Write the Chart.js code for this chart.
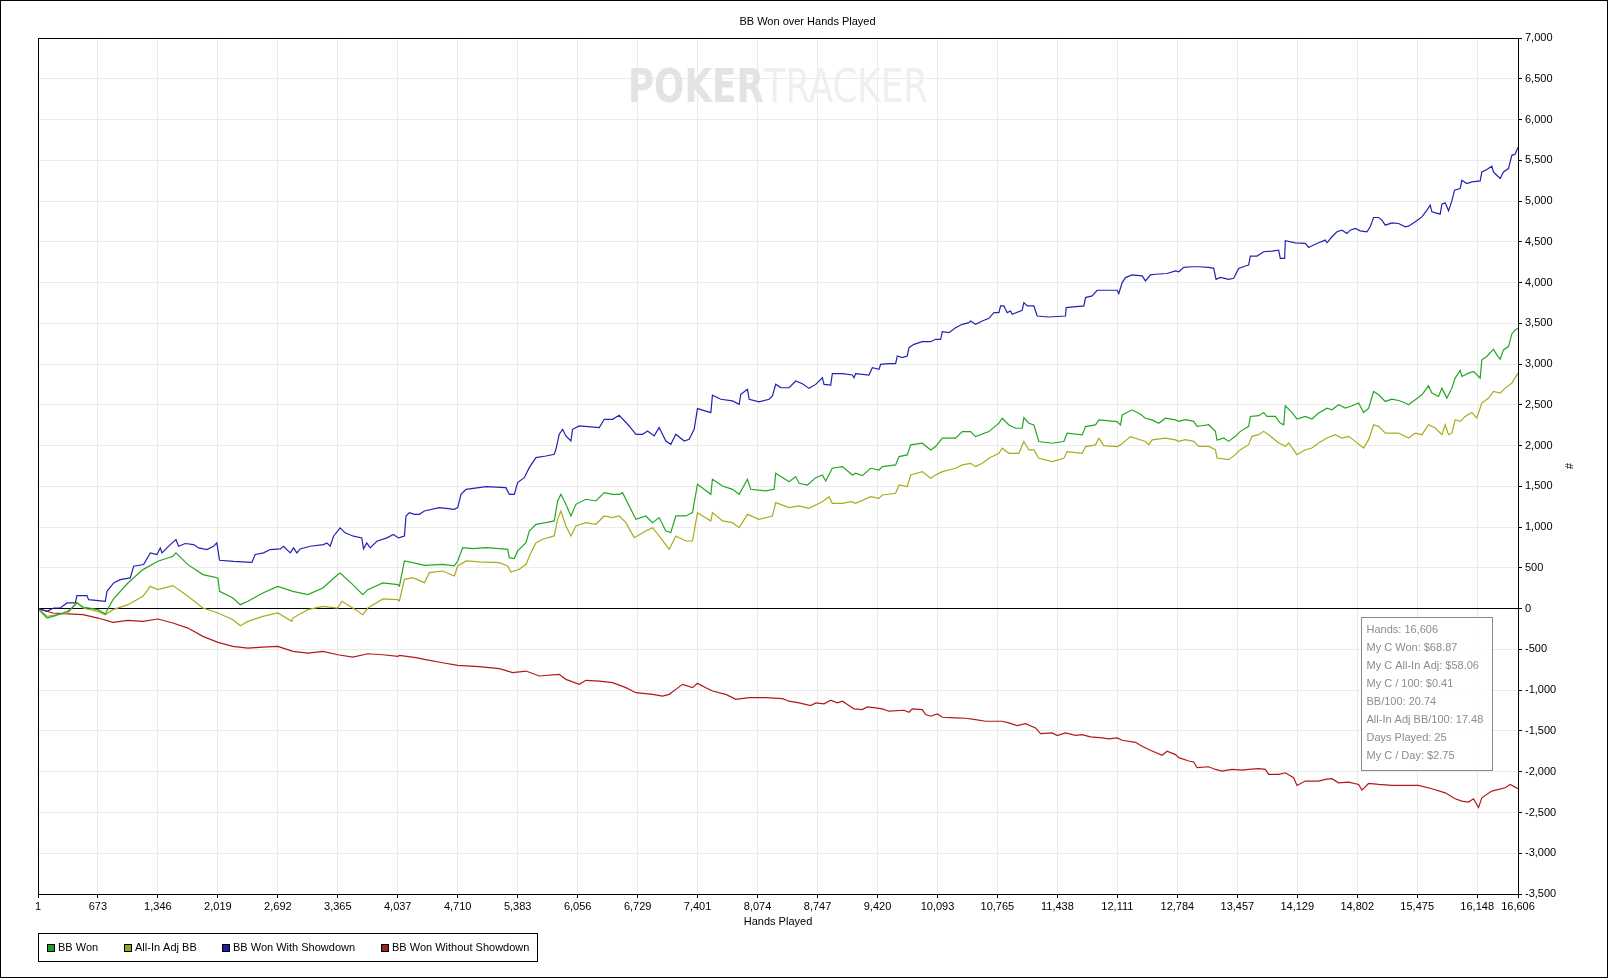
<!DOCTYPE html>
<html>
<head>
<meta charset="utf-8">
<script src="https://cdn.jsdelivr.net/npm/chart.js@4.4.1/dist/chart.umd.min.js"></script>
<style>
  html, body { margin: 0; padding: 0; background: #fff; }
  canvas { display: block; }
</style>
</head>
<body>
<canvas id="c" width="1609" height="979"></canvas>
<script>
// ---------- DATA ----------
const chartTitle = "BB Won over Hands Played";
const xAxisTitle = "Hands Played";
const yAxisTitle = "#";
const watermarkBold = "POKER";
const watermarkLight = "TRACKER";

const xTickValues = [1, 673, 1346, 2019, 2692, 3365, 4037, 4710, 5383, 6056, 6729, 7401, 8074,
  8747, 9420, 10093, 10765, 11438, 12111, 12784, 13457, 14129, 14802, 15475, 16148, 16606];

// BB Won (green)
const wonHands = [1, 102, 169, 337, 438, 506, 674, 756, 842, 1010, 1178, 1347, 1515, 1549, 1683, 1851,
  2020, 2038, 2188, 2270, 2356, 2524, 2692, 2861, 3029, 3197, 3365, 3391, 3533, 3645, 3702, 3870, 4038,
  4056, 4112, 4205, 4336, 4541, 4672, 4710, 4766, 4878, 5027, 5177, 5270, 5289, 5345, 5382, 5476, 5513,
  5588, 5700, 5793, 5831, 5868, 5924, 5980, 6036, 6148, 6260, 6354, 6447, 6522, 6559, 6634, 6709, 6821,
  6896, 6970, 7045, 7101, 7157, 7269, 7344, 7400, 7550, 7568, 7681, 7793, 7868, 7961, 7998, 8166, 8260,
  8278, 8428, 8502, 8540, 8633, 8727, 8801, 8839, 8913, 9026, 9138, 9175, 9250, 9343, 9437, 9474, 9623,
  9661, 9754, 9792, 9922, 10016, 10072, 10147, 10296, 10371, 10464, 10520, 10670, 10782, 10819, 10894,
  10969, 11043, 11062, 11118, 11174, 11230, 11380, 11511, 11548, 11716, 11754, 11866, 11903, 12108,
  12146, 12165, 12277, 12370, 12426, 12501, 12575, 12650, 12763, 12800, 12874, 12968, 13005, 13061,
  13136, 13211, 13229, 13304, 13360, 13435, 13491, 13584, 13603, 13696, 13753, 13790, 13883, 13939,
  13977, 13995, 14070, 14126, 14220, 14294, 14369, 14463, 14519, 14593, 14668, 14743, 14818, 14874,
  14930, 14986, 15042, 15117, 15191, 15266, 15341, 15378, 15453, 15528, 15602, 15640, 15715, 15752,
  15808, 15864, 15901, 15957, 15976, 16051, 16107, 16182, 16200, 16256, 16331, 16368, 16406, 16443,
  16499, 16537, 16574, 16606];
const wonValues = [0, -115, -94, -33, 70, 20, -12, -65, 110, 315, 479, 581, 643, 684, 540, 418,
  377, 213, 131, 49, 90, 192, 274, 213, 172, 254, 418, 438, 295, 172, 233, 315, 295,
  278, 585, 564, 532, 544, 524, 585, 748, 736, 748, 736, 728, 626, 614, 708, 810, 953,
  1035, 1055, 1076, 1321, 1403, 1280, 1137, 1280, 1342, 1321, 1423, 1403, 1403, 1423, 1260, 1096, 1137,
  1055, 1117, 953, 933, 1137, 1137, 1178, 1526, 1403, 1587, 1505, 1464, 1403, 1587, 1464, 1444, 1464,
  1661, 1558, 1620, 1538, 1517, 1607, 1640, 1566, 1722, 1742, 1640, 1661, 1632, 1722, 1701, 1742, 1763,
  1865, 1886, 2009, 2029, 1947, 1988, 2091, 2091, 2172, 2172, 2111, 2172, 2275, 2336, 2254,
  2213, 2213, 2344, 2275, 2254, 2050, 2029, 2050, 2152, 2131, 2234, 2254, 2316, 2295,
  2254, 2377, 2439, 2385, 2336, 2316, 2275, 2336, 2316, 2297, 2318, 2297, 2236, 2244,
  2256, 2175, 2065, 2093, 2052, 2114, 2175, 2236, 2358, 2367, 2407, 2358, 2358, 2277,
  2256, 2489, 2407, 2326, 2358, 2326, 2399, 2460, 2440, 2501, 2460, 2489, 2522, 2407,
  2460, 2664, 2624, 2542, 2571, 2554, 2522, 2501, 2562, 2624, 2734, 2644, 2603, 2705,
  2583, 2705, 2828, 2921, 2848, 2889, 2909, 2828, 3052, 3093, 3183, 3113, 3060, 3174,
  3215, 3370, 3419, 3440];

// All-In Adj BB (olive)
const adjHands = [1, 102, 337, 438, 506, 674, 756, 842, 1010, 1178, 1261, 1347, 1515, 1683, 1851, 2020,
  2188, 2270, 2356, 2524, 2692, 2849, 2861, 3029, 3197, 3365, 3410, 3533, 3645, 3702, 3870, 4038,
  4056, 4112, 4205, 4336, 4392, 4541, 4672, 4710, 4803, 4952, 5177, 5270, 5307, 5401, 5476, 5532, 5588,
  5663, 5793, 5831, 5868, 5924, 5980, 6036, 6148, 6260, 6354, 6447, 6522, 6597, 6690, 6821, 6896, 6970,
  7083, 7157, 7269, 7344, 7400, 7550, 7568, 7681, 7793, 7868, 7961, 8091, 8241, 8278, 8428, 8540, 8650,
  8801, 8876, 8913, 9026, 9119, 9175, 9343, 9437, 9474, 9623, 9661, 9754, 9792, 9922, 10016, 10072,
  10147, 10296, 10371, 10464, 10520, 10595, 10670, 10782, 10819, 10894, 11006, 11062, 11118, 11174,
  11230, 11380, 11511, 11548, 11716, 11754, 11866, 11903, 11959, 12108, 12146, 12258, 12426, 12463,
  12501, 12650, 12763, 12800, 12874, 12968, 13024, 13136, 13211, 13229, 13360, 13435, 13491, 13584,
  13622, 13696, 13753, 13809, 13921, 13995, 14033, 14126, 14220, 14294, 14369, 14463, 14556, 14631,
  14706, 14780, 14874, 14930, 14986, 15042, 15117, 15266, 15378, 15453, 15528, 15602, 15677, 15752,
  15789, 15827, 15864, 15901, 15957, 16013, 16088, 16144, 16200, 16275, 16331, 16406, 16462, 16537,
  16606];
const adjValues = [0, -94, -53, 78, 8, -33, -74, -12, 49, 152, 274, 233, 283, 152, 8, -53,
  -135, -209, -156, -94, -53, -156, -115, -12, 29, 8, 90, 8, -74, 8, 119, 110,
  94, 360, 380, 319, 442, 462, 401, 524, 585, 573, 564, 524, 450, 483, 544, 687, 810,
  851, 892, 1096, 1198, 1014, 892, 1014, 1055, 1035, 1137, 1117, 1137, 1055, 871, 953, 994, 892,
  728, 892, 830, 830, 1178, 1076, 1178, 1076, 1055, 994, 1157, 1096, 1137, 1301, 1239, 1260, 1230,
  1312, 1374, 1292, 1292, 1312, 1292, 1374, 1353, 1394, 1415, 1517, 1497, 1640, 1681, 1599, 1640,
  1681, 1722, 1763, 1783, 1742, 1783, 1845, 1906, 1968, 1906, 1906, 2050, 1947, 1947,
  1845, 1804, 1845, 1927, 1906, 1988, 2009, 2091, 2000, 1988, 2009, 2111, 2050, 2009,
  2070, 2091, 2070, 2052, 2073, 2052, 1991, 1991, 1950, 1848, 1828, 1889, 1950, 2012,
  2114, 2134, 2175, 2134, 2032, 1991, 2032, 1889, 1950, 1971, 2032, 2093, 2134, 2093,
  2114, 2052, 1971, 2073, 2256, 2236, 2154, 2154, 2093, 2154, 2134, 2256, 2216, 2134,
  2256, 2134, 2154, 2318, 2297, 2358, 2407, 2338, 2522, 2583, 2664, 2644, 2705, 2766,
  2889];

// BB Won With Showdown (blue)
const sdHands = [1, 102, 177, 251, 326, 420, 438, 550, 569, 756, 775, 850, 924, 1036, 1074, 1186,
  1261, 1335, 1373, 1392, 1485, 1549, 1578, 1653, 1747, 1803, 1896, 1971, 2008, 2038, 2195, 2401,
  2438, 2532, 2606, 2719, 2756, 2831, 2868, 2905, 2943, 3055, 3204, 3242, 3279, 3317, 3391, 3447,
  3541, 3634, 3653, 3690, 3728, 3803, 3915, 3989, 4045,
  4056, 4112, 4130, 4168, 4224, 4280, 4336, 4504, 4672, 4710, 4747, 4803, 5027, 5251, 5289, 5345,
  5382, 5457, 5513, 5588, 5700, 5793, 5812, 5849, 5887, 5924, 5980, 5999, 6074, 6298, 6354, 6447,
  6522, 6634, 6709, 6784, 6840, 6914, 6970, 7045, 7101, 7157, 7251, 7307, 7363, 7400, 7550, 7568,
  7662, 7793, 7868, 7886, 7961, 7980, 8091, 8204, 8241, 8278, 8334,
  8428, 8502, 8577, 8652, 8727, 8801, 8820, 8895, 8913, 9026, 9138, 9156, 9175, 9324, 9362, 9437,
  9455, 9549, 9623, 9642, 9698, 9754, 9773, 9829, 9922, 10016, 10072, 10128, 10147, 10221, 10296,
  10371, 10445, 10464, 10520, 10595, 10670, 10726, 10782, 10801, 10838, 10875, 10913, 10931, 11043,
  11062, 11100, 11174, 11212, 11342, 11529, 11537, 11735, 11754, 11828, 11884, 12108, 12127, 12165,
  12202, 12277, 12389, 12426, 12482, 12538, 12669, 12763,
  12800, 12856, 12949, 13024, 13136, 13192, 13218, 13267, 13360, 13416, 13472, 13547, 13584, 13603,
  13678, 13753, 13846, 13921, 13939, 13988, 13995, 14108, 14220, 14257, 14313, 14369, 14444, 14463,
  14519, 14575, 14631, 14687, 14724, 14780, 14836, 14911, 14948, 14986, 15042, 15079, 15117, 15191,
  15266, 15341, 15378, 15453, 15528, 15584, 15621, 15640, 15733, 15752, 15789, 15827, 15864, 15894,
  15957, 15976, 16032, 16088, 16182, 16200, 16256, 16312, 16331, 16368, 16406, 16443, 16499, 16537,
  16574, 16606];
const sdValues = [0, -33, 8, 8, 70, 70, 160, 160, 111, 90, 213, 315, 356, 377, 520, 541,
  684, 664, 745, 684, 786, 848, 766, 799, 786, 745, 725, 766, 807, 594, 581, 569,
  664, 684, 725, 733, 766, 684, 745, 684, 733, 766, 786, 807, 766, 889, 991, 930,
  889, 868, 733, 807, 745, 827, 868, 909, 868,
  871, 892, 1137, 1178, 1157, 1157, 1198, 1239, 1219, 1239, 1403, 1464, 1497, 1485, 1403, 1403,
  1546, 1607, 1730, 1853, 1873, 1894, 1955, 2139, 2200, 2119, 2057, 2200, 2241, 2221, 2323, 2323,
  2372, 2241, 2139, 2139, 2180, 2119, 2221, 2057, 2016, 2139, 2057, 2078, 2200, 2454, 2405, 2618,
  2569, 2548, 2507, 2630, 2691, 2569, 2536, 2569, 2609, 2753, 2712,
  2710, 2792, 2759, 2702, 2751, 2833, 2751, 2743, 2882, 2882, 2866, 2833, 2882, 2866, 2956, 2935,
  2997, 3005, 3005, 3099, 3079, 3099, 3201, 3242, 3275, 3275, 3304, 3304, 3398, 3386, 3447,
  3488, 3509, 3529, 3488, 3529, 3562, 3631, 3631, 3713, 3713, 3631, 3652, 3611, 3660,
  3754, 3713, 3713, 3590, 3578, 3590, 3693, 3713, 3816, 3836, 3906, 3906, 3865, 4000,
  4061, 4094, 4082, 4020, 4094, 4102, 4111, 4143,
  4133, 4186, 4194, 4194, 4186, 4174, 4039, 4064, 4039, 4052, 4174, 4203, 4215, 4325,
  4325, 4378, 4386, 4398, 4296, 4296, 4513, 4488, 4480, 4431, 4460, 4488, 4521, 4488,
  4562, 4623, 4643, 4602, 4643, 4664, 4635, 4623, 4684, 4798, 4798, 4766, 4704, 4733,
  4725, 4684, 4692, 4745, 4806, 4888, 4949, 4868, 4839, 4962, 4978, 4880, 5002, 5133,
  5153, 5255, 5214, 5235, 5247, 5357, 5386, 5427, 5357, 5316, 5276, 5357, 5398, 5561,
  5573, 5660];

// BB Won Without Showdown (red)
const nsdHands = [1, 169, 337, 506, 674, 842, 1010, 1178, 1347, 1515, 1683, 1851, 2020, 2188, 2356, 2524,
  2692, 2861, 3029, 3197, 3365, 3533, 3702, 3870, 4038,
  4056, 4242, 4336, 4541, 4710, 4952, 5177, 5326, 5476, 5625, 5849, 5924, 6074, 6148, 6298, 6447,
  6597, 6709, 6896, 7008, 7083, 7157, 7232, 7344, 7400, 7494, 7568, 7718, 7830, 7980, 8166, 8353,
  8428, 8540, 8670, 8727, 8820, 8895, 8969, 9026, 9082, 9156, 9250, 9306, 9399, 9474, 9549, 9717,
  9773, 9810, 9922, 9960, 10016, 10091, 10147, 10296, 10408, 10520, 10632, 10744, 10819, 10894,
  10987, 11081, 11193, 11249, 11380, 11436, 11529, 11641, 11716, 11810, 11940, 12015, 12108, 12165,
  12314, 12389, 12482, 12613, 12669, 12763,
  12800, 12912, 12968, 13005, 13136, 13211, 13285, 13398, 13510, 13584, 13696, 13771, 13809, 13921,
  13995, 14089, 14126, 14220, 14369, 14444, 14519, 14593, 14706, 14818, 14855, 14930, 15042, 15191,
  15341, 15490, 15640, 15789, 15901, 15976, 16051, 16107, 16163, 16200, 16312, 16462, 16518, 16606];
const nsdValues = [0, -53, -65, -74, -115, -168, -143, -156, -127, -176, -238, -340, -414, -463, -483, -471,
  -463, -524, -545, -524, -565, -594, -553, -565, -586,
  -573, -601, -622, -663, -695, -712, -736, -785, -765, -826, -806, -867, -928, -879, -888, -908,
  -969, -1031, -1051, -1072, -1051, -990, -928, -969, -916, -969, -1010, -1051, -1112, -1092, -1092, -1104,
  -1135, -1156, -1188, -1156, -1168, -1123, -1156, -1135, -1176, -1229, -1238, -1205, -1217, -1229, -1258, -1246,
  -1270, -1229, -1238, -1299, -1319, -1291, -1332, -1340, -1344, -1360, -1381, -1381, -1381, -1401,
  -1434, -1410, -1463, -1532, -1524, -1557, -1524, -1553, -1545, -1573, -1586, -1598, -1586, -1614,
  -1639, -1688, -1737, -1799, -1749, -1790,
  -1828, -1869, -1881, -1951, -1939, -1972, -1992, -1972, -1980, -1972, -1963, -1972, -2033, -2033,
  -2013, -2074, -2168, -2115, -2115, -2095, -2086, -2136, -2127, -2156, -2226, -2144, -2156, -2168,
  -2168, -2168, -2209, -2259, -2332, -2361, -2373, -2332, -2440, -2320, -2238, -2197, -2156, -2209];

const seriesLabels = ["BB Won", "All-In Adj BB", "BB Won With Showdown", "BB Won Without Showdown"];
const seriesColors = ["#22a722", "#abab1e", "#2323b2", "#b21818"];
const legendFill = ["#1f9f1f", "#a0a01f", "#1f1fa0", "#a01f1f"];

const statsLines = [
  "Hands: 16,606",
  "My C Won: $68.87",
  "My C All-In Adj: $58.06",
  "My C / 100: $0.41",
  "BB/100: 20.74",
  "All-In Adj BB/100: 17.48",
  "Days Played: 25",
  "My C / Day: $2.75"
];

// ---------- CHART ----------
const FONT = '"Liberation Sans", Arial, sans-serif';
const fmt = v => Number(v).toLocaleString('en-US');
const seriesX = [wonHands, adjHands, sdHands, nsdHands];
const seriesY = [wonValues, adjValues, sdValues, nsdValues];

const decor = {
  id: 'decor',
  beforeDraw(chart) {
    const ctx = chart.ctx;
    ctx.save();
    ctx.fillStyle = '#fff';
    ctx.fillRect(0, 0, chart.width, chart.height);
    ctx.restore();
  },
  beforeDatasetsDraw(chart) {
    const ctx = chart.ctx, a = chart.chartArea;
    ctx.save();
    const size = 47;
    const fam = '"Liberation Sans Narrow", "DejaVu Sans Condensed", sans-serif';
    ctx.font = 'bold ' + size + 'px ' + fam;
    const w1 = ctx.measureText(watermarkBold).width;
    ctx.font = size + 'px ' + fam;
    const w2 = ctx.measureText(watermarkLight).width;
    const target = 300;
    const sx = target / (w1 + w2);
    const cx = (a.left + a.right) / 2;
    ctx.translate(cx - target / 2, 102);
    ctx.scale(sx, 1);
    ctx.textBaseline = 'alphabetic';
    ctx.font = 'bold ' + size + 'px ' + fam;
    ctx.fillStyle = '#e3e3e3';
    ctx.fillText(watermarkBold, 0, 0);
    ctx.font = size + 'px ' + fam;
    ctx.fillStyle = '#efefef';
    ctx.fillText(watermarkLight, w1, 0);
    ctx.restore();
  },
  afterDraw(chart) {
    const ctx = chart.ctx, a = chart.chartArea;
    ctx.save();
    ctx.strokeStyle = '#000';
    ctx.lineWidth = 1;
    ctx.strokeRect(Math.round(a.left) + 0.5, Math.round(a.top) + 0.5,
      Math.round(a.right - a.left), Math.round(a.bottom - a.top));
    ctx.strokeRect(0.5, 0.5, chart.width - 2, chart.height - 2);

    ctx.fillStyle = '#000';
    ctx.font = '11px ' + FONT;
    ctx.textAlign = 'center';
    ctx.textBaseline = 'middle';
    ctx.fillText(chartTitle, chart.width / 2 + 3, 22);
    ctx.fillText(xAxisTitle, (a.left + a.right) / 2, 922);
    ctx.save();
    ctx.translate(1568, (a.top + a.bottom) / 2);
    ctx.rotate(Math.PI / 2);
    ctx.fillText(yAxisTitle, 0, 0);
    ctx.restore();

    // stats box
    const y0 = chart.scales.y.getPixelForValue(0);
    const bx = Math.round(a.right - 26 - 131) + 0.5, by = Math.round(y0 + 8) + 0.5;
    ctx.fillStyle = 'rgba(255,255,255,0.85)';
    ctx.fillRect(bx, by, 131, 153);
    ctx.strokeStyle = '#8a8a8a';
    ctx.strokeRect(bx, by, 131, 153);
    ctx.fillStyle = '#8c8c8c';
    ctx.textAlign = 'left';
    ctx.textBaseline = 'middle';
    ctx.font = '11px ' + FONT;
    statsLines.forEach((s, i) => ctx.fillText(s, bx + 5, by + 12 + i * 18));

    // legend
    const lx = 38.5, ly = 933.5, lh = 28;
    let x = lx + 8;
    const cy = ly + lh / 2;
    ctx.font = '11px ' + FONT;
    const items = chart.data.datasets.map((d, i) => ({ label: d.label, fill: legendFill[i] }));
    const positions = [];
    items.forEach(it => {
      positions.push(x);
      x += 8 + 3 + ctx.measureText(it.label).width + 26;
    });
    const lw = x - 26 + 8 - lx;
    ctx.fillStyle = '#fff';
    ctx.fillRect(lx, ly, lw, lh);
    ctx.strokeStyle = '#000';
    ctx.strokeRect(lx, ly, Math.round(lw), lh);
    items.forEach((it, i) => {
      const px = Math.round(positions[i]);
      ctx.fillStyle = it.fill;
      ctx.fillRect(px, Math.round(cy - 4), 8, 8);
      ctx.strokeStyle = '#000';
      ctx.strokeRect(px + 0.5, Math.round(cy - 4) + 0.5, 7, 7);
      ctx.fillStyle = '#000';
      ctx.fillText(it.label, px + 11, cy);
    });
    ctx.restore();
  }
};

new Chart(document.getElementById('c'), {
  type: 'line',
  data: {
    datasets: seriesLabels.map((lab, i) => ({
      label: lab,
      data: seriesX[i].map((h, j) => ({ x: h, y: seriesY[i][j] })),
      borderColor: seriesColors[i],
      backgroundColor: seriesColors[i],
      borderWidth: 1.2,
      pointRadius: 0,
      tension: 0,
      fill: false
    }))
  },
  options: {
    responsive: false,
    animation: false,
    devicePixelRatio: 1,
    parsing: true,
    layout: { padding: { left: 38, top: 38, right: 41, bottom: 65 } },
    plugins: {
      legend: { display: false },
      title: { display: false },
      tooltip: { enabled: false }
    },
    scales: {
      x: {
        type: 'linear',
        min: 1,
        max: 16606,
        afterBuildTicks: s => { s.ticks = xTickValues.map(v => ({ value: v })); },
        afterFit: s => { s.height = 20; },
        grid: { color: '#ebebeb', tickColor: '#000', tickLength: 4, drawOnChartArea: true },
        border: { display: true, color: '#000', width: 1 },
        ticks: {
          autoSkip: false, maxRotation: 0, minRotation: 0, padding: 2, color: '#000',
          font: { family: FONT, size: 11 },
          callback: v => fmt(v)
        }
      },
      y: {
        position: 'right',
        min: -3500,
        max: 7000,
        afterFit: s => { s.width = 50; },
        grid: {
          color: c => (c.tick && c.tick.value === 0) ? '#000' : '#ebebeb',
          tickColor: '#000',
          tickLength: 4
        },
        border: { display: true, color: '#000', width: 1 },
        ticks: {
          stepSize: 500, padding: 3, color: '#000',
          font: { family: FONT, size: 11 },
          callback: v => fmt(v)
        }
      }
    }
  },
  plugins: [decor]
});
</script>
</body>
</html>
